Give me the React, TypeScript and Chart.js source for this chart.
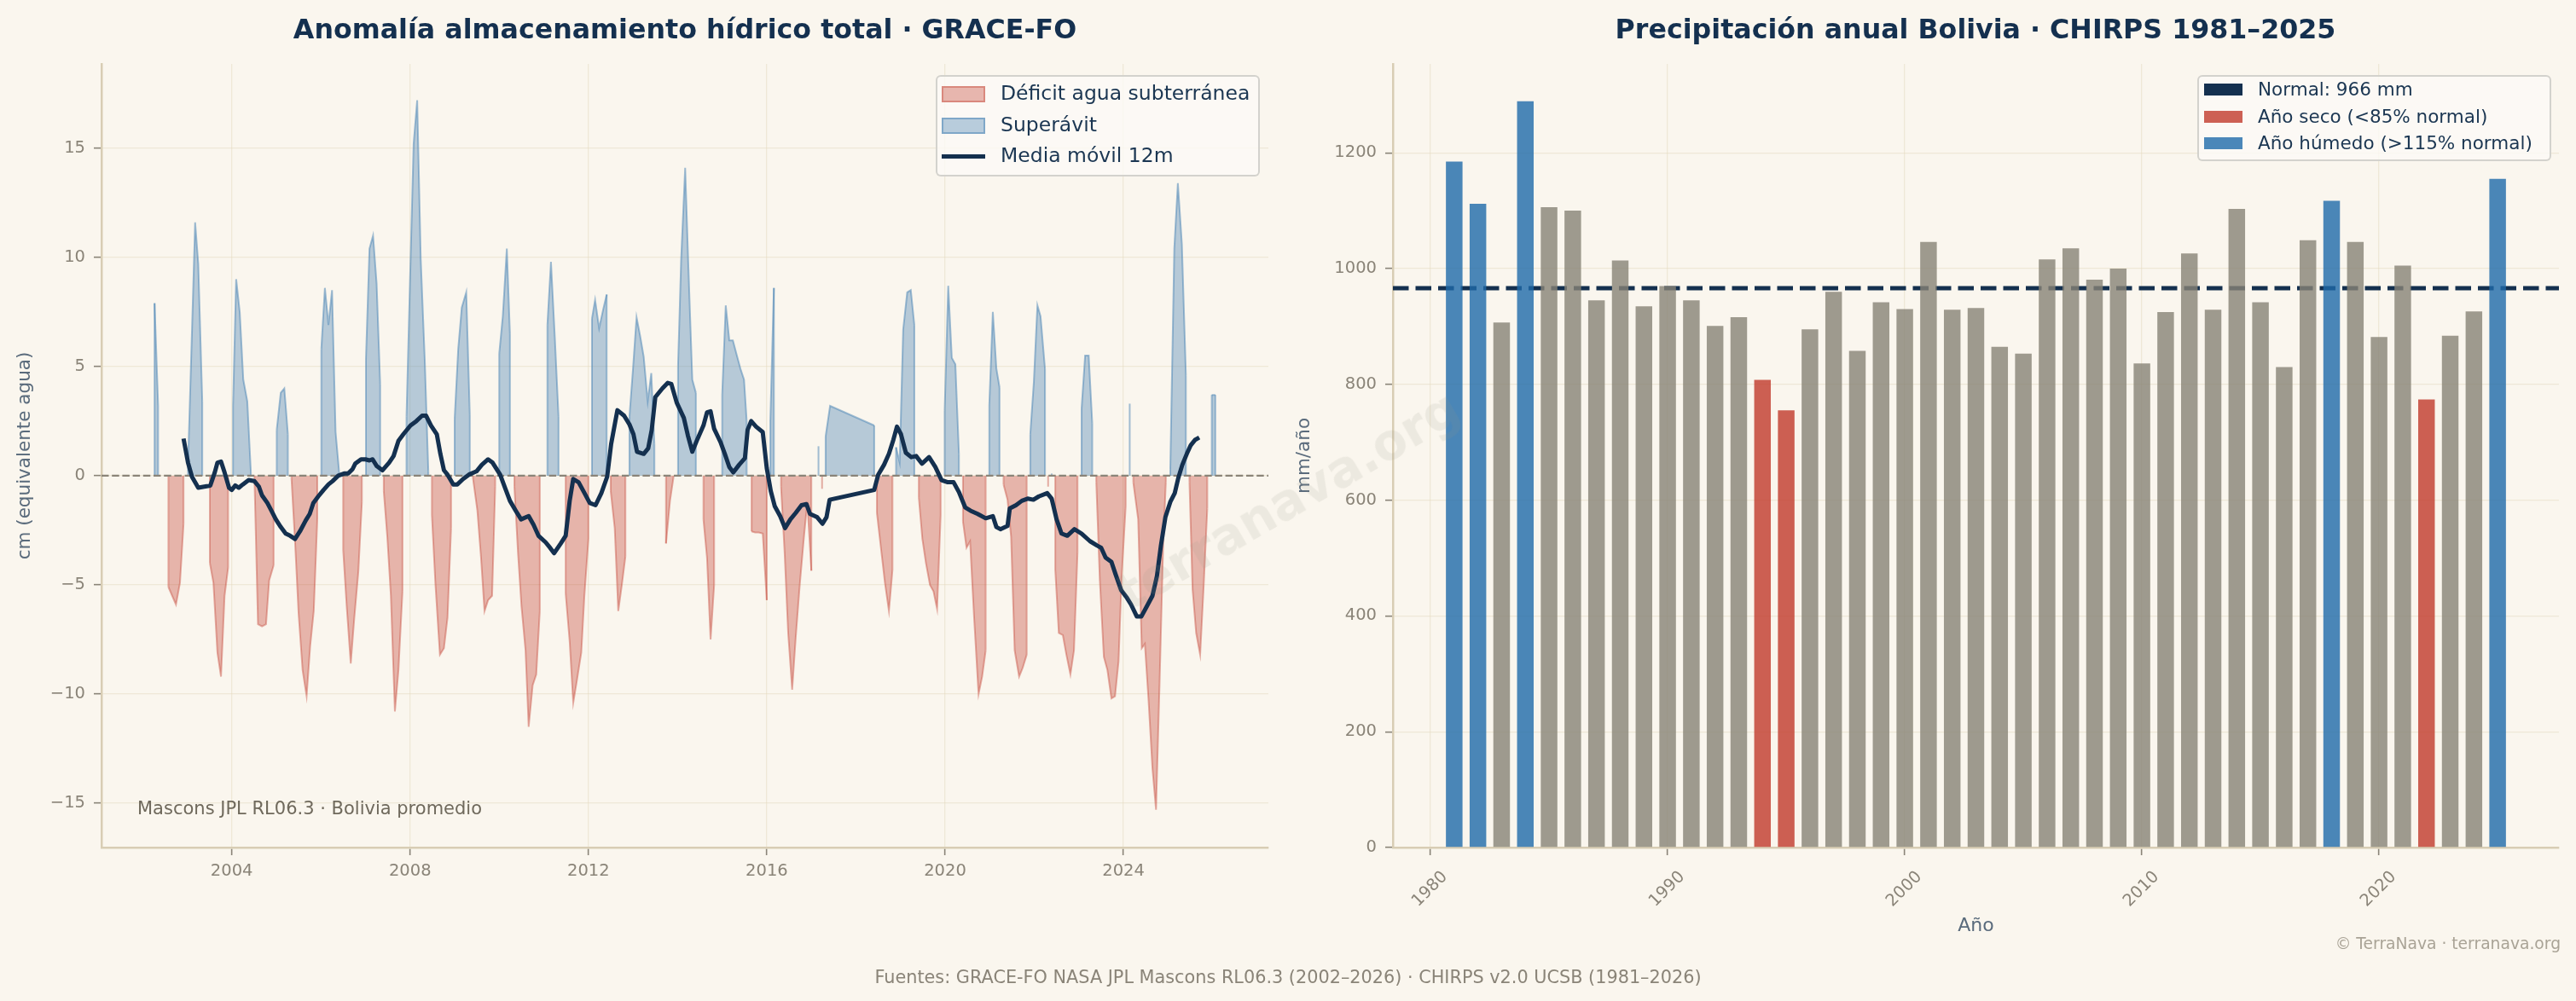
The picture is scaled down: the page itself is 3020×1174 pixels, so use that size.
import React, { useEffect, useRef } from 'react';
import { Chart, registerables } from 'chart.js';

Chart.register(...registerables);

const FONT = "'DejaVu Sans', 'Noto Sans', sans-serif";
const BG = '#faf6ee';
const NAVY = '#14304f';
const TICK = '#8a8478';
const LABEL = '#5a6b7c';

// ---------- GRACE-FO total water storage anomaly (decimal year, cm) ----------
const graceT = [
  2002.27, 2002.35, 2002.58, 2002.75, 2002.84, 2002.92,
  2003.02, 2003.10, 2003.18, 2003.25, 2003.34, 2003.51, 2003.59, 2003.68, 2003.76, 2003.84, 2003.92,
  2004.03, 2004.10, 2004.18, 2004.26, 2004.35, 2004.43, 2004.51, 2004.59, 2004.68, 2004.77, 2004.84, 2004.94,
  2005.01, 2005.10, 2005.18, 2005.26, 2005.34, 2005.42, 2005.50, 2005.59, 2005.68, 2005.76, 2005.84, 2005.92,
  2006.01, 2006.09, 2006.17, 2006.25, 2006.33, 2006.41, 2006.50, 2006.58, 2006.67, 2006.75, 2006.84, 2006.92,
  2007.01, 2007.09, 2007.17, 2007.25, 2007.33, 2007.41, 2007.49, 2007.57, 2007.66, 2007.74, 2007.83, 2007.92,
  2008.00, 2008.08, 2008.16, 2008.24, 2008.33, 2008.41, 2008.49, 2008.57, 2008.67, 2008.76, 2008.84, 2008.92,
  2009.00, 2009.08, 2009.16, 2009.26, 2009.34, 2009.41, 2009.51, 2009.59, 2009.67, 2009.75, 2009.84, 2009.91,
  2010.00, 2010.08, 2010.17, 2010.24, 2010.34, 2010.42, 2010.50, 2010.59, 2010.66, 2010.75, 2010.83, 2010.91,
  2011.08, 2011.16, 2011.25, 2011.33, 2011.49, 2011.58, 2011.66, 2011.74, 2011.84, 2011.91,
  2012.00, 2012.08, 2012.15, 2012.24, 2012.33, 2012.41, 2012.50, 2012.59, 2012.67, 2012.75, 2012.83, 2012.92,
  2013.00, 2013.08, 2013.16, 2013.24, 2013.33, 2013.41, 2013.48, 2013.74, 2013.83, 2013.91,
  2014.01, 2014.08, 2014.17, 2014.24, 2014.33, 2014.41, 2014.58, 2014.66, 2014.74, 2014.82,
  2015.00, 2015.08, 2015.16, 2015.24, 2015.33, 2015.41, 2015.49, 2015.55, 2015.66, 2015.74, 2015.82, 2015.91,
  2016.00, 2016.08, 2016.16, 2016.32, 2016.40, 2016.48, 2016.57, 2016.65, 2016.74, 2016.83, 2016.91,
  2017.00, 2017.16, 2017.24, 2017.32, 2017.42,
  2018.41, 2018.47, 2018.56, 2018.65, 2018.74, 2018.82, 2018.90, 2018.98,
  2019.06, 2019.15, 2019.23, 2019.31, 2019.41, 2019.49, 2019.57, 2019.66, 2019.74, 2019.82, 2019.90, 2019.99,
  2020.07, 2020.15, 2020.23, 2020.31, 2020.40, 2020.48, 2020.56, 2020.65, 2020.75, 2020.83, 2020.91, 2020.99,
  2021.07, 2021.15, 2021.22, 2021.31, 2021.40, 2021.48, 2021.56, 2021.66, 2021.74, 2021.83, 2021.91, 2021.99,
  2022.07, 2022.14, 2022.24, 2022.31, 2022.39, 2022.47, 2022.55, 2022.64, 2022.72, 2022.81, 2022.89, 2022.97,
  2023.06, 2023.14, 2023.22, 2023.30, 2023.39, 2023.47, 2023.56, 2023.64, 2023.73, 2023.81, 2023.89, 2023.96,
  2024.05, 2024.14, 2024.22, 2024.33, 2024.41, 2024.48, 2024.56, 2024.65, 2024.73, 2024.81, 2024.89, 2024.95,
  2025.05, 2025.14, 2025.22, 2025.31, 2025.40, 2025.48, 2025.55, 2025.63, 2025.72, 2025.80, 2025.88, 2025.98, 2026.06,
];
const graceV = [
  7.9, 3.2, -5.1, -5.9, -4.9, -2.2,
  0.5, 6.0, 11.6, 9.7, 3.4, -4.0, -4.9, -8.1, -9.2, -5.5, -4.2,
  3.2, 9.0, 7.5, 4.4, 3.4, 0.15, -0.1, -6.8, -6.9, -6.8, -4.8, -4.1,
  2.1, 3.8, 4.0, 1.9, -0.1, -3.0, -6.3, -8.9, -10.1, -7.8, -6.2, -2.0,
  5.8, 8.6, 6.9, 8.5, 2.0, 0.15, -3.4, -6.0, -8.6, -6.5, -4.4, -1.2,
  5.3, 10.4, 11.0, 8.8, 4.2, -0.7, -2.8, -5.5, -10.8, -8.9, -5.3, 2.7,
  9.0, 15.2, 17.2, 9.9, 5.3, 0.2, -1.8, -5.0, -8.2, -7.9, -6.5, -2.4,
  2.6, 5.8, 7.7, 8.4, 2.8, -0.1, -1.6, -3.7, -6.2, -5.7, -5.5, -0.5,
  5.6, 7.3, 10.4, 6.5, -0.5, -3.5, -6.0, -8.0, -11.5, -9.6, -9.1, -6.2,
  6.9, 9.8, 6.2, 2.7, -5.4, -7.6, -10.4, -9.4, -8.1, -5.5,
  -2.9, 7.2, 8.05, 6.75, 7.6, 8.3, -0.7, -2.4, -6.2, -5.0, -3.7, 2.7,
  4.9, 7.25, 6.4, 5.45, 3.4, 4.7, 1.45, -3.1, -1.15, -0.05,
  5.0, 9.9, 14.1, 9.7, 4.4, 3.8, -2.0, -3.75, -7.5, -5.0,
  3.7, 7.8, 6.2, 6.2, 5.5, 4.9, 4.4, 2.5, -2.55, -2.6, -2.6, -2.65,
  -5.7, 2.5, 8.6, -0.5, -3.5, -7.2, -9.8, -7.4, -5.0, -2.9, -1.2,
  -4.35, 1.35, -0.6, 1.8, 3.2,
  2.3, -1.7, -3.3, -4.9, -6.2, -4.3, 1.3, 0.6,
  6.7, 8.4, 8.5, 6.9, -1.0, -2.9, -4.0, -5.0, -5.3, -6.1, -1.8, 3.0,
  8.7, 5.4, 5.1, 1.0, -2.1, -3.3, -3.0, -6.5, -10.0, -9.2, -8.0, 3.2,
  7.5, 4.9, 4.05, -0.4, -1.1, -2.8, -8.0, -9.2, -8.8, -8.2, 1.9, 4.3,
  7.8, 7.3, 4.9, -0.5, 0.1, -4.3, -7.2, -7.3, -8.2, -9.1, -8.0, -3.5,
  3.05, 5.5, 5.5, 2.4, -0.3, -4.8, -8.3, -8.9, -10.2, -10.1, -8.5, -4.6,
  -1.4, 3.3, -0.3, -2.0, -7.9, -7.7, -10.2, -13.4, -15.3, -9.5, -3.2, -0.3,
  0.3, 10.4, 13.4, 10.6, 4.6, -0.3, -5.2, -7.2, -8.2, -5.0, -1.5, 3.7, 3.7,
];

// ---------- 12-month moving average (decimal year, cm) ----------
const maT = [
  2002.92, 2003.02, 2003.11, 2003.25, 2003.52, 2003.62, 2003.68, 2003.76, 2003.84, 2003.94,
  2004.00, 2004.08, 2004.16, 2004.25, 2004.38, 2004.51, 2004.61, 2004.68, 2004.80, 2004.89, 2004.99,
  2005.10, 2005.21, 2005.31, 2005.42, 2005.53, 2005.66, 2005.75, 2005.83, 2005.94,
  2006.06, 2006.17, 2006.26, 2006.39, 2006.52, 2006.61, 2006.71, 2006.77, 2006.90,
  2007.00, 2007.09, 2007.16, 2007.25, 2007.38, 2007.53, 2007.63, 2007.74, 2007.85,
  2008.01, 2008.14, 2008.27, 2008.36, 2008.47, 2008.60, 2008.68, 2008.76, 2008.84, 2008.97,
  2009.06, 2009.19, 2009.32, 2009.49, 2009.61, 2009.75, 2009.85,
  2010.02, 2010.13, 2010.24, 2010.37, 2010.49, 2010.66, 2010.77, 2010.88,
  2011.04, 2011.14, 2011.23, 2011.38, 2011.49, 2011.58, 2011.66, 2011.78, 2011.90,
  2012.03, 2012.16, 2012.29, 2012.42, 2012.51, 2012.65, 2012.80, 2012.92,
  2013.01, 2013.09, 2013.24, 2013.34, 2013.42, 2013.50, 2013.66, 2013.78, 2013.86, 2013.98,
  2014.14, 2014.23, 2014.33, 2014.45, 2014.58, 2014.66, 2014.74, 2014.82, 2014.96,
  2015.06, 2015.16, 2015.25, 2015.38, 2015.51, 2015.57, 2015.65, 2015.76, 2015.91,
  2016.00, 2016.09, 2016.18, 2016.30, 2016.41, 2016.53, 2016.65, 2016.78, 2016.89, 2016.97,
  2017.13, 2017.25, 2017.34, 2017.41,
  2018.41, 2018.50, 2018.63, 2018.74, 2018.84, 2018.92,
  2019.01, 2019.12, 2019.24, 2019.35, 2019.48, 2019.64, 2019.78, 2019.92,
  2020.06, 2020.19, 2020.31, 2020.45, 2020.57, 2020.73, 2020.91,
  2021.07, 2021.15, 2021.24, 2021.40, 2021.45, 2021.59, 2021.72, 2021.85, 2021.98,
  2022.10, 2022.29, 2022.39, 2022.50, 2022.61, 2022.74, 2022.90,
  2023.06, 2023.25, 2023.41, 2023.50, 2023.60, 2023.73, 2023.82, 2023.95,
  2024.08, 2024.17, 2024.30, 2024.40, 2024.52, 2024.65, 2024.75, 2024.84, 2024.94,
  2025.05, 2025.15, 2025.23, 2025.32, 2025.42, 2025.51, 2025.61, 2025.70,
];
const maV = [
  1.7, 0.6, -0.05, -0.55, -0.45, 0.15, 0.6, 0.65, 0.15, -0.55,
  -0.65, -0.45, -0.55, -0.4, -0.2, -0.25, -0.5, -0.9, -1.25, -1.6, -2.0,
  -2.35, -2.65, -2.75, -2.9, -2.55, -2.05, -1.75, -1.25, -0.95,
  -0.65, -0.4, -0.25, 0.0, 0.1, 0.1, 0.3, 0.55, 0.75,
  0.75, 0.7, 0.75, 0.45, 0.25, 0.6, 0.9, 1.6, 1.9,
  2.3, 2.5, 2.75, 2.75, 2.3, 1.9, 1.0, 0.25, 0.05, -0.4,
  -0.4, -0.15, 0.05, 0.2, 0.5, 0.75, 0.6,
  0.05, -0.55, -1.15, -1.6, -2.0, -1.85, -2.25, -2.75,
  -3.05, -3.3, -3.55, -3.1, -2.75, -1.15, -0.15, -0.3, -0.75,
  -1.25, -1.35, -0.8, -0.05, 1.45, 3.0, 2.75, 2.35,
  1.9, 1.1, 1.0, 1.25, 2.1, 3.6, 4.0, 4.25, 4.2, 3.35,
  2.65, 1.85, 1.1, 1.7, 2.3, 2.9, 2.95, 2.15, 1.55,
  1.0, 0.4, 0.15, 0.5, 0.8, 2.1, 2.5, 2.25, 2.0,
  0.35, -0.7, -1.4, -1.85, -2.4, -2.0, -1.7, -1.35, -1.3, -1.75,
  -1.9, -2.2, -1.9, -1.1,
  -0.65, 0.05, 0.5, 1.0, 1.65, 2.25,
  1.9, 1.05, 0.85, 0.9, 0.55, 0.85, 0.4, -0.2,
  -0.3, -0.3, -0.75, -1.45, -1.6, -1.75, -1.95,
  -1.85, -2.35, -2.45, -2.3, -1.5, -1.35, -1.15, -1.05, -1.1,
  -0.95, -0.8, -1.05, -2.0, -2.65, -2.75, -2.45,
  -2.65, -3.0, -3.2, -3.3, -3.75, -3.95, -4.5, -5.25,
  -5.6, -5.9, -6.45, -6.45, -6.0, -5.5, -4.6, -3.2, -1.9,
  -1.2, -0.8, -0.1, 0.5, 1.0, 1.4, 1.65, 1.75,
];

// ---------- CHIRPS annual precipitation, Bolivia (mm/año) ----------
const precipYears = [
  1981, 1982, 1983, 1984, 1985, 1986, 1987, 1988, 1989, 1990,
  1991, 1992, 1993, 1994, 1995, 1996, 1997, 1998, 1999, 2000,
  2001, 2002, 2003, 2004, 2005, 2006, 2007, 2008, 2009, 2010,
  2011, 2012, 2013, 2014, 2015, 2016, 2017, 2018, 2019, 2020,
  2021, 2022, 2023, 2024, 2025,
];
const precipMM = [
  1185, 1112, 907, 1289, 1106, 1100, 945, 1014, 935, 970,
  945, 901, 916, 808, 755, 895, 960, 858, 942, 930,
  1046, 929, 932, 865, 853, 1016, 1035, 981, 1000, 836,
  925, 1026, 929, 1103, 942, 830, 1049, 1117, 1046, 882,
  1005, 774, 884, 926, 1155,
];
const NORMAL_MM = 966;

const leftYTicks = [-15, -10, -5, 0, 5, 10, 15];

const COL_DRY = 'rgba(192,57,43,0.8)';
const COL_WET = 'rgba(30,106,169,0.8)';
const COL_NORMAL_BAR = 'rgba(135,131,118,0.8)';
const RED_FILL = 'rgba(192,57,43,0.35)';
const RED_EDGE = 'rgba(200,80,66,0.45)';
const BLUE_FILL = 'rgba(70,130,180,0.38)';
const BLUE_EDGE = 'rgba(70,130,180,0.5)';

const fmtMinus = (v: number) => (v < 0 ? '\u2212' + Math.abs(v) : String(v));

// zero reference line + vertical polygon edges at the ends of each same-sign run
const zeroLinePlugin = {
  id: 'zeroLine',
  afterDatasetDraw(chart: any, args: any) {
    if (args.index !== 0) return;
    const { ctx, chartArea: a, scales } = chart;
    const xs = scales.x;
    const ys = scales.y;
    const py = ys.getPixelForValue(0);
    ctx.save();
    ctx.beginPath();
    ctx.rect(a.left, a.top, a.right - a.left, a.bottom - a.top);
    ctx.clip();
    ctx.lineWidth = 2;
    const n = graceV.length;
    for (let i = 0; i < n; i++) {
      const s = graceV[i] >= 0;
      const prevSame = i > 0 && graceV[i - 1] >= 0 === s;
      const nextSame = i < n - 1 && graceV[i + 1] >= 0 === s;
      if (prevSame && nextSame) continue;
      const px = xs.getPixelForValue(graceT[i]);
      ctx.beginPath();
      ctx.strokeStyle = s ? BLUE_EDGE : RED_EDGE;
      ctx.moveTo(px, py);
      ctx.lineTo(px, ys.getPixelForValue(graceV[i]));
      ctx.stroke();
    }
    ctx.beginPath();
    ctx.setLineDash([8.5, 3.7]);
    ctx.strokeStyle = TICK;
    ctx.lineWidth = 2.2;
    ctx.moveTo(a.left, py);
    ctx.lineTo(a.right, py);
    ctx.stroke();
    ctx.restore();
  },
};

const normalLinePlugin = {
  id: 'normalLine',
  beforeDatasetsDraw(chart: any) {
    const { ctx, chartArea: a, scales } = chart;
    const py = scales.y.getPixelForValue(NORMAL_MM);
    ctx.save();
    ctx.beginPath();
    ctx.setLineDash([18.5, 8]);
    ctx.strokeStyle = NAVY;
    ctx.lineWidth = 5;
    ctx.moveTo(a.left, py);
    ctx.lineTo(a.right, py);
    ctx.stroke();
    ctx.restore();
  },
};

const gridCommon = {
  color: 'rgba(226,214,186,0.45)',
  lineWidth: 1.3,
  tickColor: TICK,
  tickLength: 9,
  tickWidth: 1.6,
};
const borderCommon = { display: true, color: '#d8cdb4', width: 2.5 };

function LegendBox(props: any) {
  const { left, top, width, height, items, fontSize, swW, swH, textLeft, swLeft } = props;
  return (
    <div
      style={{
        position: 'absolute',
        left,
        top,
        width,
        height,
        boxSizing: 'border-box',
        border: '2px solid rgba(205,203,198,0.85)',
        borderRadius: 6,
        background: 'rgba(252,250,246,0.8)',
      }}
    >
      {items.map((it: any, i: number) => (
        <React.Fragment key={i}>
          {it.kind === 'line' ? (
            <div
              style={{
                position: 'absolute',
                left: swLeft,
                top: it.cy - 2.5,
                width: swW,
                height: 5,
                background: it.color,
              }}
            />
          ) : (
            <div
              style={{
                position: 'absolute',
                left: swLeft,
                top: it.cy - swH / 2,
                width: swW,
                height: swH,
                boxSizing: 'border-box',
                background: it.color,
                border: it.edge ? `2px solid ${it.edge}` : 'none',
              }}
            />
          )}
          <div
            style={{
              position: 'absolute',
              left: textLeft,
              top: it.cy,
              transform: 'translateY(-50%)',
              fontSize,
              lineHeight: 1.15,
              color: '#1b3652',
              whiteSpace: 'nowrap',
            }}
          >
            {it.label}
          </div>
        </React.Fragment>
      ))}
    </div>
  );
}

export default function App() {
  const leftRef = useRef<HTMLCanvasElement>(null);
  const rightRef = useRef<HTMLCanvasElement>(null);

  useEffect(() => {
    document.body.style.margin = '0';
    document.body.style.background = BG;
    Chart.defaults.font.family = FONT;
    Chart.defaults.color = TICK;

    const posData = graceT.map((t, i) => ({ x: t, y: graceV[i] >= 0 ? graceV[i] : null }));
    const negData = graceT.map((t, i) => ({ x: t, y: graceV[i] < 0 ? graceV[i] : null }));
    const maData = maT.map((t, i) => ({ x: t, y: maV[i] }));

    const left = new Chart(leftRef.current as HTMLCanvasElement, {
      type: 'line',
      data: {
        datasets: [
          {
            label: 'Déficit agua subterránea',
            data: negData,
            borderColor: RED_EDGE,
            backgroundColor: RED_FILL,
            borderWidth: 2,
            fill: 'origin',
            pointRadius: 0,
            tension: 0,
            spanGaps: false,
            order: 2,
          },
          {
            label: 'Superávit',
            data: posData,
            borderColor: BLUE_EDGE,
            backgroundColor: BLUE_FILL,
            borderWidth: 2,
            fill: 'origin',
            pointRadius: 0,
            tension: 0,
            spanGaps: false,
            order: 2,
          },
          {
            label: 'Media móvil 12m',
            data: maData,
            borderColor: NAVY,
            borderWidth: 5,
            fill: false,
            pointRadius: 0,
            tension: 0,
            borderJoinStyle: 'round',
            borderCapStyle: 'butt',
            order: 0,
          },
        ],
      } as any,
      options: {
        animation: false,
        responsive: false,
        devicePixelRatio: 1,
        events: [],
        layout: { padding: { left: 13, right: 23, top: 75, bottom: 120 } },
        plugins: { legend: { display: false }, tooltip: { enabled: false } },
        scales: {
          x: {
            type: 'linear',
            min: 2001.08,
            max: 2027.25,
            afterFit: (s: any) => {
              s.height = 60;
            },
            ticks: {
              stepSize: 4,
              includeBounds: false,
              autoSkip: false,
              maxRotation: 0,
              padding: 7,
              color: TICK,
              font: { size: 19.5 },
              callback: (v: any) => String(v),
            },
            grid: gridCommon,
            border: borderCommon,
          },
          y: {
            type: 'linear',
            min: -17.03,
            max: 18.86,
            afterFit: (s: any) => {
              s.width = 106;
            },
            afterBuildTicks: (s: any) => {
              s.ticks = leftYTicks.map((v) => ({ value: v }));
            },
            ticks: {
              padding: 10,
              color: TICK,
              font: { size: 19.5 },
              callback: (v: any) => fmtMinus(Number(v)),
            },
            title: {
              display: true,
              text: 'cm (equivalente agua)',
              color: LABEL,
              font: { size: 21.5 },
            },
            grid: gridCommon,
            border: borderCommon,
          },
        },
      } as any,
      plugins: [zeroLinePlugin],
    });

    const barColors = precipMM.map((v) =>
      v > NORMAL_MM * 1.15 ? COL_WET : v < NORMAL_MM * 0.85 ? COL_DRY : COL_NORMAL_BAR
    );

    const right = new Chart(rightRef.current as HTMLCanvasElement, {
      type: 'bar',
      data: {
        datasets: [
          {
            label: 'Precipitación',
            data: precipYears.map((yr, i) => ({ x: yr, y: precipMM[i] })),
            backgroundColor: barColors,
            borderWidth: 0,
            barPercentage: 0.7,
            categoryPercentage: 1.0,
          },
        ],
      } as any,
      options: {
        animation: false,
        responsive: false,
        devicePixelRatio: 1,
        events: [],
        layout: { padding: { left: 3, right: 20, top: 75, bottom: 71 } },
        plugins: { legend: { display: false }, tooltip: { enabled: false } },
        scales: {
          x: {
            type: 'linear',
            offset: false,
            min: 1978.415,
            max: 2027.585,
            afterFit: (s: any) => {
              s.height = 109;
            },
            ticks: {
              stepSize: 10,
              includeBounds: false,
              autoSkip: false,
              minRotation: 45,
              maxRotation: 45,
              padding: 14,
              labelOffset: 17,
              color: TICK,
              font: { size: 19.5 },
              callback: (v: any) => String(v),
            },
            title: { display: true, text: 'Año', color: LABEL, font: { size: 22 } },
            grid: { ...gridCommon, offset: false },
            border: borderCommon,
          },
          y: {
            type: 'linear',
            min: 0,
            max: 1353.5,
            afterFit: (s: any) => {
              s.width = 120;
            },
            ticks: {
              stepSize: 200,
              includeBounds: false,
              padding: 10,
              color: TICK,
              font: { size: 19.5 },
              callback: (v: any) => String(v),
            },
            title: { display: true, text: 'mm/año', color: LABEL, font: { size: 21.5 } },
            grid: gridCommon,
            border: borderCommon,
          },
        },
      } as any,
      plugins: [normalLinePlugin],
    });

    return () => {
      left.destroy();
      right.destroy();
    };
  }, []);

  const titleStyle: any = {
    position: 'absolute',
    top: 35,
    transform: 'translate(-50%, -50%)',
    fontWeight: 'bold',
    fontSize: 31.7,
    lineHeight: 1,
    color: NAVY,
    whiteSpace: 'nowrap',
  };

  return (
    <div
      style={{
        position: 'fixed',
        left: 0,
        top: 0,
        width: 3020,
        height: 1174,
        background: BG,
        overflow: 'hidden',
        fontFamily: FONT,
      }}
    >
      <canvas
        ref={leftRef}
        width={1510}
        height={1174}
        style={{ position: 'absolute', left: 0, top: 0, width: 1510, height: 1174 }}
      />
      <canvas
        ref={rightRef}
        width={1510}
        height={1174}
        style={{ position: 'absolute', left: 1510, top: 0, width: 1510, height: 1174 }}
      />

      <div style={{ ...titleStyle, left: 803 }}>Anomalía almacenamiento hídrico total · GRACE-FO</div>
      <div style={{ ...titleStyle, left: 2316 }}>Precipitación anual Bolivia · CHIRPS 1981–2025</div>

      <LegendBox
        left={1097}
        top={88}
        width={380}
        height={119}
        fontSize={23.5}
        swLeft={5}
        swW={51}
        swH={19}
        textLeft={74}
        items={[
          { label: 'Déficit agua subterránea', color: RED_FILL, edge: RED_EDGE, cy: 20 },
          { label: 'Superávit', color: BLUE_FILL, edge: BLUE_EDGE, cy: 57 },
          { label: 'Media móvil 12m', color: NAVY, kind: 'line', cy: 93 },
        ]}
      />

      <LegendBox
        left={2576}
        top={88}
        width={415}
        height={101}
        fontSize={21.5}
        swLeft={6}
        swW={45}
        swH={14}
        textLeft={69}
        items={[
          { label: 'Normal: 966 mm', color: NAVY, cy: 15 },
          { label: 'Año seco (<85% normal)', color: COL_DRY, cy: 47 },
          { label: 'Año húmedo (>115% normal)', color: COL_WET, cy: 78 },
        ]}
      />

      <div
        style={{
          position: 'absolute',
          left: 161,
          top: 948,
          transform: 'translateY(-50%)',
          fontSize: 21,
          lineHeight: 1,
          color: '#6f695c',
          whiteSpace: 'nowrap',
        }}
      >
        Mascons JPL RL06.3 · Bolivia promedio
      </div>

      <div
        style={{
          position: 'absolute',
          left: 1510,
          top: 587,
          transform: 'translate(-50%, -50%) rotate(-30deg)',
          fontSize: 58,
          fontWeight: 'bold',
          lineHeight: 1,
          color: 'rgba(150,145,130,0.13)',
          whiteSpace: 'nowrap',
          pointerEvents: 'none',
        }}
      >
        terranava.org
      </div>

      <div
        style={{
          position: 'absolute',
          right: 18,
          top: 1107,
          transform: 'translateY(-50%)',
          fontSize: 18.7,
          lineHeight: 1,
          color: '#a9a396',
          whiteSpace: 'nowrap',
        }}
      >
        © TerraNava · terranava.org
      </div>

      <div
        style={{
          position: 'absolute',
          left: 1510,
          top: 1146,
          transform: 'translate(-50%, -50%)',
          fontSize: 20.8,
          lineHeight: 1,
          color: TICK,
          whiteSpace: 'nowrap',
        }}
      >
        Fuentes: GRACE-FO NASA JPL Mascons RL06.3 (2002–2026) · CHIRPS v2.0 UCSB (1981–2026)
      </div>
    </div>
  );
}
